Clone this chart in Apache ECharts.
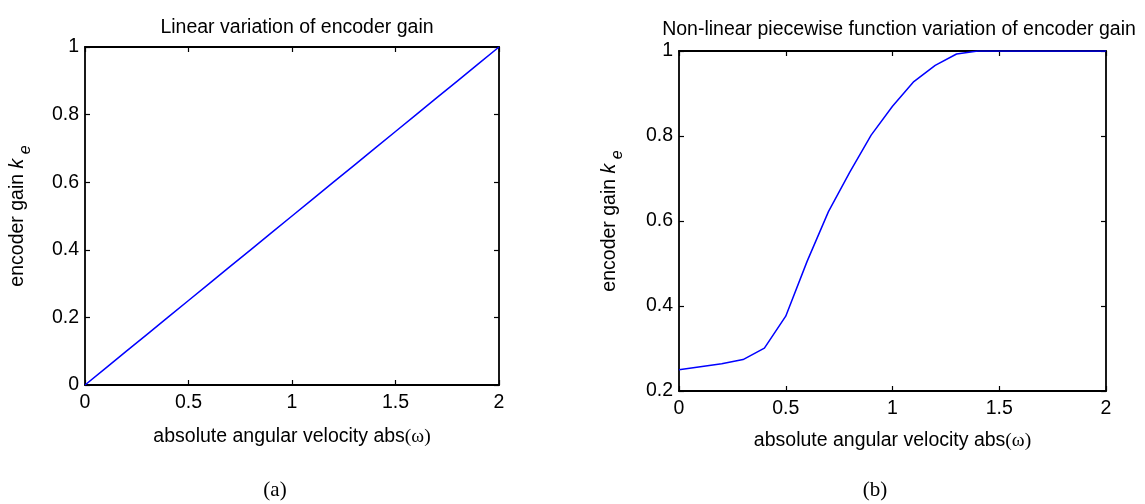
<!DOCTYPE html>
<html>
<head>
<meta charset="utf-8">
<script src="https://cdn.jsdelivr.net/npm/echarts@6/dist/echarts.min.js"></script>
<style>
html,body{margin:0;padding:0;background:#fff;}
#chart{width:1145px;height:504px;}
</style>
</head>
<body>
<div id="chart"></div>
<script>
// Panel (a): linear variation
var xA = [0, 0.1, 0.2, 0.3, 0.4, 0.5, 0.6, 0.7, 0.8, 0.9, 1.0, 1.1, 1.2, 1.3, 1.4, 1.5, 1.6, 1.7, 1.8, 1.9, 2.0];
var yA = [0, 0.05, 0.1, 0.15, 0.2, 0.25, 0.3, 0.35, 0.4, 0.45, 0.5, 0.55, 0.6, 0.65, 0.7, 0.75, 0.8, 0.85, 0.9, 0.95, 1.0];
// Panel (b): non-linear piecewise variation
var xB = [0, 0.1, 0.2, 0.3, 0.4, 0.5, 0.6, 0.7, 0.8, 0.9, 1.0, 1.1, 1.2, 1.3, 1.4, 1.5, 1.6, 1.7, 1.8, 1.9, 2.0];
var yB = [0.25, 0.257, 0.264, 0.274, 0.301, 0.376, 0.505, 0.622, 0.715, 0.802, 0.870, 0.928, 0.966, 0.993, 1.0, 1.0, 1.0, 1.0, 1.0, 1.0, 1.0];
var xTicks = ['0', '0.5', '1', '1.5', '2'];
var titleA = 'Linear variation of encoder gain';
var titleB = 'Non-linear piecewise function variation of encoder gain';
var xName = 'absolute angular velocity abs';
var yName = 'encoder gain ';
var captions = ['(a)', '(b)'];

var SANS = '"Liberation Sans", Arial, sans-serif';
var SERIF = '"Liberation Serif", "Times New Roman", serif';
var FS = 19.5;

function pairs(xs, ys) { return xs.map(function (x, i) { return [x, ys[i]]; }); }

var grids = [
  {left: 85, top: 47, width: 414, height: 338},
  {left: 679, top: 51, width: 427, height: 340}
];

var xAxes = [], yAxes = [];
function axLine() { return {show: true, onZero: false, lineStyle: {color: '#000', width: 1.8}}; }
function axTick() { return {show: true, inside: true, length: 5, lineStyle: {color: '#000', width: 1.2}}; }
function addAxes(gi, ymin, xGap, yGap) {
  xAxes.push({
    type: 'value', gridIndex: gi, position: 'bottom', min: 0, max: 2, interval: 0.5,
    axisLine: axLine(), splitLine: {show: false}, axisTick: axTick(),
    axisLabel: {color: '#000', fontSize: FS, fontFamily: SANS, margin: 8,
      formatter: function (v) { return xTicks[Math.round(v / 0.5)]; }},
    name: '{t|' + xName + '}{w|(ω)}', nameLocation: 'middle', nameGap: xGap,
    nameTextStyle: {rich: {
      t: {fontSize: FS, fontFamily: SANS, color: '#000', lineHeight: 24},
      w: {fontSize: FS, fontFamily: SERIF, color: '#000', lineHeight: 24}
    }}
  });
  xAxes.push({
    type: 'value', gridIndex: gi, position: 'top', min: 0, max: 2, interval: 0.5,
    axisLine: axLine(), splitLine: {show: false}, axisTick: axTick(),
    axisLabel: {show: false}
  });
  yAxes.push({
    type: 'value', gridIndex: gi, position: 'left', min: ymin, max: 1, interval: 0.2,
    axisLine: axLine(), splitLine: {show: false}, axisTick: axTick(),
    axisLabel: {color: '#000', fontSize: FS, fontFamily: SANS, margin: 6,
      formatter: function (v) { return String(+v.toFixed(1)); }},
    name: '{a|' + yName + '}{k|k}{e| e}', nameLocation: 'middle', nameRotate: 90, nameGap: yGap,
    nameTextStyle: {rich: {
      a: {fontSize: FS, fontFamily: SANS, color: '#000', lineHeight: 32},
      k: {fontSize: FS, fontFamily: SANS, fontStyle: 'italic', color: '#000', lineHeight: 32},
      e: {fontSize: 16, fontFamily: SANS, fontStyle: 'italic', color: '#000', lineHeight: 16, verticalAlign: 'bottom'}
    }}
  });
  yAxes.push({
    type: 'value', gridIndex: gi, position: 'right', min: ymin, max: 1, interval: 0.2,
    axisLine: axLine(), splitLine: {show: false}, axisTick: axTick(),
    axisLabel: {show: false}
  });
}
addAxes(0, 0, 40, 51);
addAxes(1, 0.2, 38, 53);

var option = {
  backgroundColor: '#fff',
  animation: false,
  title: [
    {text: titleA, left: 292, top: 13, textAlign: 'center',
      textStyle: {fontSize: FS, fontWeight: 'normal', fontFamily: SANS, color: '#000'}},
    {text: titleB, left: 894, top: 15, textAlign: 'center',
      textStyle: {fontSize: FS, fontWeight: 'normal', fontFamily: SANS, color: '#000'}},
    {text: captions[0], left: 270, top: 475, textAlign: 'center',
      textStyle: {fontSize: 21, fontWeight: 'normal', fontFamily: SERIF, color: '#000'}},
    {text: captions[1], left: 870, top: 475, textAlign: 'center',
      textStyle: {fontSize: 21, fontWeight: 'normal', fontFamily: SERIF, color: '#000'}}
  ],
  grid: grids,
  xAxis: xAxes,
  yAxis: yAxes,
  series: [
    {type: 'line', xAxisIndex: 0, yAxisIndex: 0, data: pairs(xA, yA), showSymbol: false,
      lineStyle: {color: '#0000ff', width: 1.5}, silent: true},
    {type: 'line', xAxisIndex: 2, yAxisIndex: 2, data: pairs(xB, yB), showSymbol: false,
      lineStyle: {color: '#0000ff', width: 1.5}, silent: true}
  ]
};
var chart = echarts.init(document.getElementById('chart'), null, {renderer: 'canvas'});
chart.setOption(option);
</script>
</body>
</html>
